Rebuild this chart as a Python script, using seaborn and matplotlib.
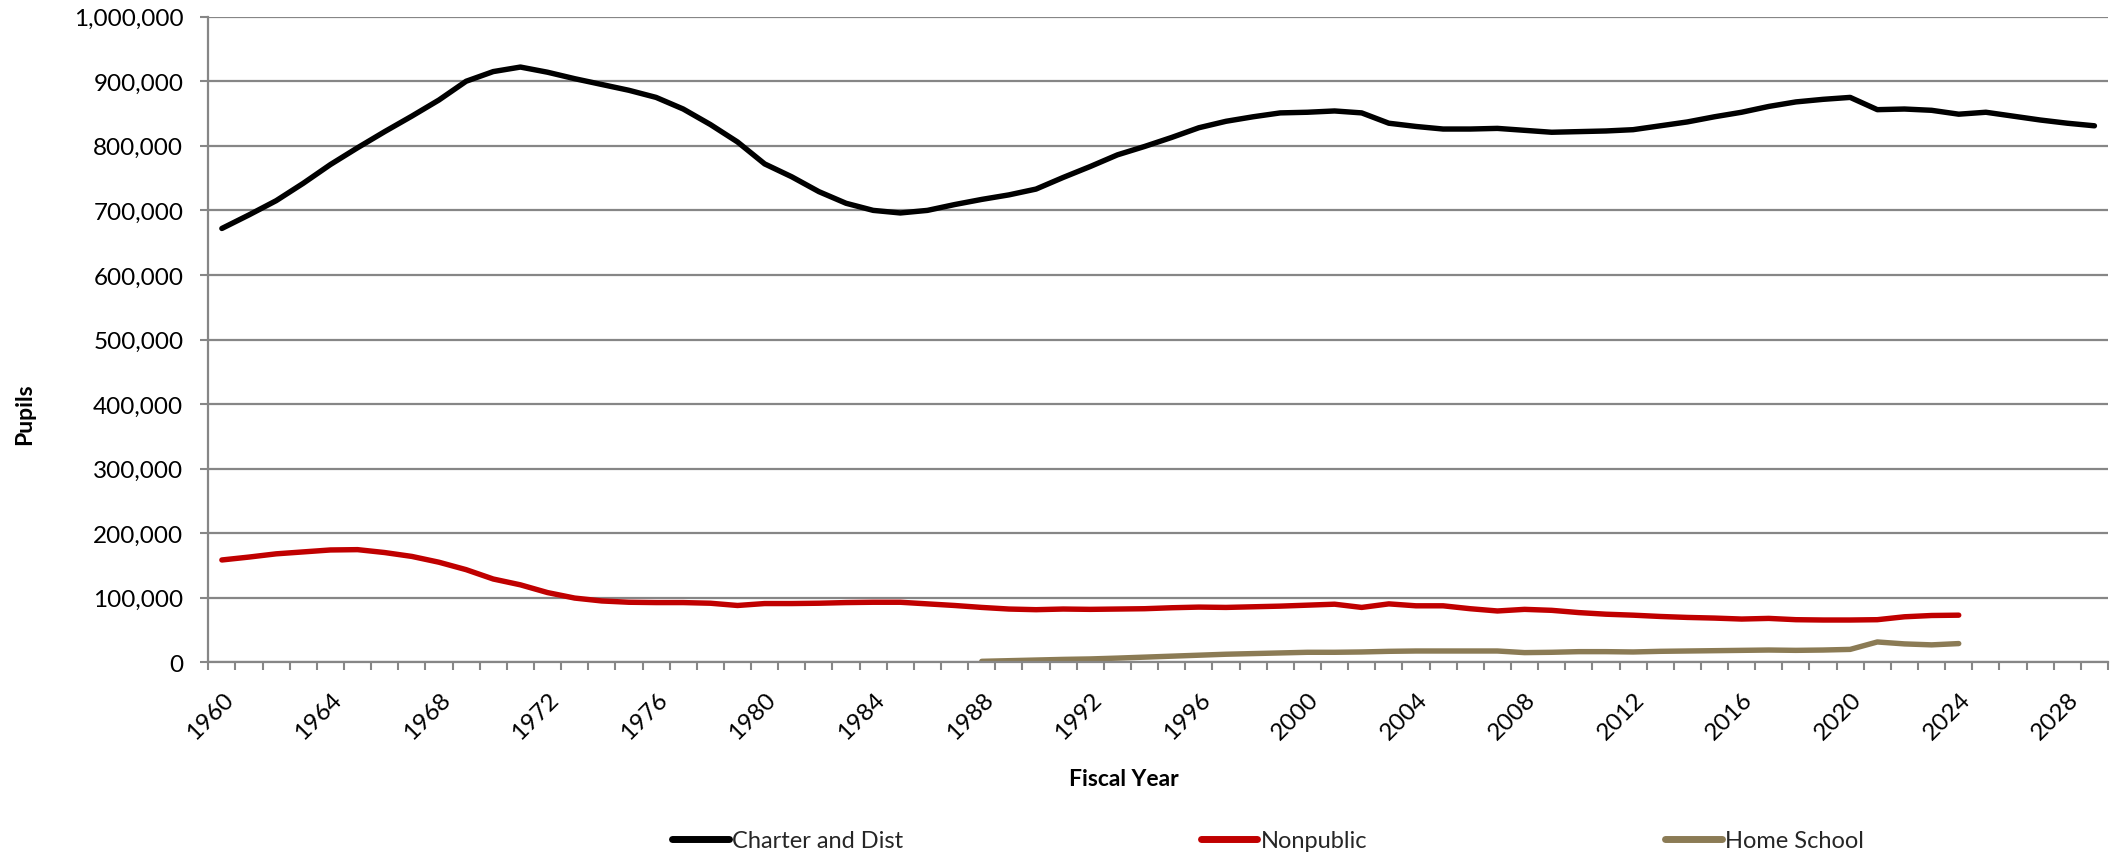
import numpy as np
import pandas as pd
import matplotlib
matplotlib.use("Agg")
import matplotlib.pyplot as plt
import matplotlib.ticker as mticker
import matplotlib.transforms as mtransforms
import seaborn as sns

# Enrollment by fiscal year
charter_years = list(range(1960, 2030))
charter_and_dist = [
    672000, 693000, 715000, 742000, 771000, 797000, 822000, 846000, 871000, 900000,
    915000, 922000, 914000, 904000, 895000, 886000, 875000, 857000, 833000, 806000,
    772000, 752000, 729000, 711000, 700000, 696000, 700000, 709000, 717000, 724000,
    733000, 751000, 768000, 786000, 799000, 813000, 828000, 838000, 845000, 851000,
    852000, 854000, 851000, 835000, 830000, 826000, 826000, 827000, 824000, 821000,
    822000, 823000, 825000, 831000, 837000, 845000, 852000, 861000, 868000, 872000,
    875000, 856000, 857000, 855000, 849000, 852000, 846000, 840000, 835000, 831000,
]

nonpublic_years = list(range(1960, 2025))
nonpublic = [
    158500, 163000, 168000, 171000, 174000, 174500, 170000, 164000, 155000, 143500,
    129000, 120000, 108000, 99500, 95000, 93000, 92500, 92500, 91500, 88000,
    91000, 91000, 91500, 92500, 93000, 93000, 90500, 88000, 85000, 82500,
    81500, 82500, 82000, 82500, 83000, 84500, 85500, 85000, 86000, 87000,
    88500, 90000, 85000, 90500, 87500, 87500, 83000, 79500, 82000, 80500,
    77000, 74500, 73000, 71000, 69500, 68500, 67000, 68000, 66000, 65500,
    65500, 66000, 70500, 72500, 73000,
]

home_school_years = list(range(1988, 2025))
home_school = [
    1500, 2500, 3500, 4500, 5200, 6500, 8000, 9500, 11000, 12500,
    13500, 14500, 15500, 15500, 16000, 17000, 17500, 17500, 17500, 17500,
    15000, 15500, 16500, 16500, 16000, 17000, 17500, 18000, 18500, 19000,
    18500, 19000, 20000, 31500, 28500, 27000, 29000,
]

series_names = ["Charter and Dist", "Nonpublic", "Home School"]
series_colors = ["#000000", "#C00000", "#8B7B55"]
label_years = list(range(1960, 2029, 4))

df = pd.concat([
    pd.DataFrame({"Fiscal Year": charter_years, "Pupils": charter_and_dist, "Series": series_names[0]}),
    pd.DataFrame({"Fiscal Year": nonpublic_years, "Pupils": nonpublic, "Series": series_names[1]}),
    pd.DataFrame({"Fiscal Year": home_school_years, "Pupils": home_school, "Series": series_names[2]}),
], ignore_index=True)

sns.set_theme(style="white")
plt.rcParams["font.family"] = ["Lato", "DejaVu Sans"]

W, H = 2118, 854
fig = plt.figure(figsize=(W / 100, H / 100), dpi=100)
x0, x1 = 208.3, 2108.0
y_top, y_bot = 17.7, 663.3
ax = fig.add_axes([x0 / W, 1 - y_bot / H, (x1 - x0) / W, (y_bot - y_top) / H])

grid_gray = "#868686"

sns.lineplot(
    data=df, x="Fiscal Year", y="Pupils", hue="Series",
    hue_order=series_names, palette=dict(zip(series_names, series_colors)),
    linewidth=3.9, ax=ax, sort=True, estimator=None,
)
for ln in ax.lines:
    ln.set_solid_capstyle("round")
    ln.set_solid_joinstyle("round")

ax.set_xlim(1959.5, 2029.5)
ax.set_ylim(0, 1_000_000)

# y axis
ax.yaxis.set_major_locator(mticker.MultipleLocator(100_000))
ax.yaxis.set_major_formatter(mticker.FuncFormatter(lambda v, p: f"{v:,.0f}"))
ax.grid(axis="y", color=grid_gray, linewidth=1.6)
ax.grid(axis="x", visible=False)
ax.set_axisbelow(True)

# x axis: labels every 4 years, tick marks between every category
ax.set_xticks(label_years)
ax.set_xticklabels([str(y) for y in label_years])
ax.set_xticks(np.arange(1959.5, 2030.0, 1.0), minor=True)

ax.tick_params(axis="y", which="major", length=5.5, width=1.5, color=grid_gray,
               pad=12.5, labelsize=17.5, labelcolor="#000000", left=True)
ax.tick_params(axis="x", which="major", length=0, pad=24, labelsize=17.5,
               labelcolor="#000000", bottom=True)
ax.tick_params(axis="x", which="minor", length=5.8, width=1.5, color=grid_gray,
               direction="out", bottom=True)

offset = mtransforms.ScaledTranslation(8 / 100, 0, fig.dpi_scale_trans)
for lab in ax.get_xticklabels():
    lab.set_rotation(45)
    lab.set_ha("right")
    lab.set_va("center")
    lab.set_rotation_mode("anchor")
    lab.set_transform(lab.get_transform() + offset)

for side in ["top", "right"]:
    ax.spines[side].set_visible(False)
for side in ["left", "bottom"]:
    ax.spines[side].set_color(grid_gray)
    ax.spines[side].set_linewidth(1.6)

ax.set_ylabel("Pupils", fontsize=16.5, fontweight="bold", color="#000000")
ax.yaxis.set_label_coords(-0.091, 0.386)
ax.set_xlabel("Fiscal Year", fontsize=16.5, fontweight="bold", color="#000000")
ax.xaxis.set_label_coords(0.482, -0.164)

sns.move_legend(
    ax, "center", bbox_to_anchor=(1268 / W, 1 - 842 / H), bbox_transform=fig.transFigure,
    ncol=3, title=None, frameon=False, fontsize=17,
    handlelength=2.4, handletextpad=0.15, columnspacing=12.6,
)
for h in ax.get_legend().legend_handles:
    h.set_linewidth(5.0)
    h.set_solid_capstyle("round")

fig.savefig("out.png", dpi=100)
